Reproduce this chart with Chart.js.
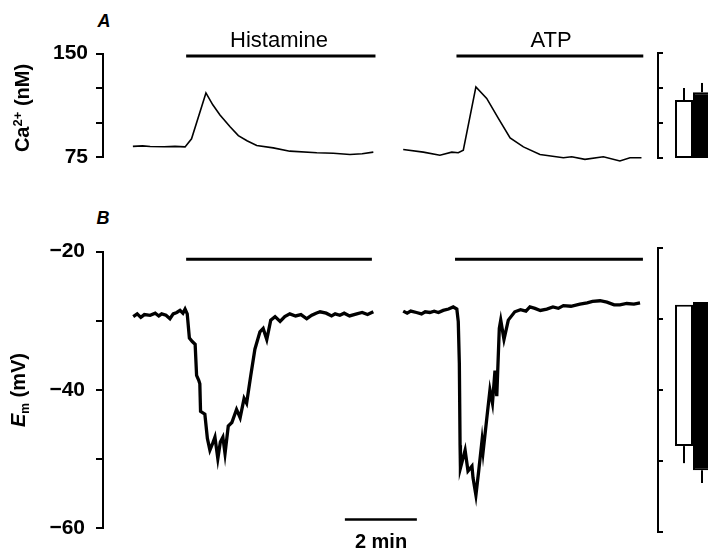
<!DOCTYPE html>
<html>
<head>
<meta charset="utf-8">
<script src="https://cdn.jsdelivr.net/npm/chart.js@4/dist/chart.umd.min.js"></script>
<style>
  html, body { margin:0; padding:0; background:#fff; overflow:hidden; width:708px; height:550px; }
  canvas { position:absolute; }
  .lbl { position:absolute; font-family:'Liberation Sans', Arial, sans-serif; color:#000; white-space:nowrap; transform:translate(-50%,-50%); line-height:1; }
  .rot { transform:translate(-50%,-50%) rotate(-90deg); }
</style>
</head>
<body>
<canvas id="cA" width="653" height="145" style="left:0;top:33px"></canvas>
<canvas id="cB" width="653" height="324" style="left:0;top:228px"></canvas>
<canvas id="bA" width="80" height="145" style="left:648px;top:33px"></canvas>
<canvas id="bB" width="80" height="324" style="left:648px;top:228px"></canvas>

<div class="lbl" style="left:104px;top:21px;font-size:18px;font-weight:bold;font-style:italic">A</div>
<div class="lbl" style="left:103px;top:218px;font-size:18px;font-weight:bold;font-style:italic">B</div>
<div class="lbl" style="left:279px;top:40px;font-size:22px;">Histamine</div>
<div class="lbl" style="left:551px;top:40px;font-size:22px;">ATP</div>
<div class="lbl" style="left:381px;top:541px;font-size:20px;font-weight:bold">2 min</div>
<div class="lbl rot" style="left:21px;top:108px;font-size:20px;font-weight:bold">Ca<sup style="font-size:13px;vertical-align:7px">2+</sup> (nM)</div>
<div class="lbl rot" style="left:19px;top:390px;font-size:20px;font-weight:bold"><i>E</i><sub style="font-size:12px;vertical-align:-4px">m</sub> (mV)</div>

<script>
// ---------- time axis (minutes) ----------
const timeRange = [0, 15.28];

// ---------- Panel A : [Ca2+]i (nM) ----------
const caTicks = [75, 100, 125, 150];
const caTickLabels = ['75', '', '', '150'];
const caHistamine = [[0.83,83.0],[1.1,83.3],[1.31,82.9],[1.7,82.7],[2.0,83.0],[2.28,82.6],[2.46,88.4],[2.86,121.6],[3.05,113.0],[3.25,105.7],[3.53,97.1],[3.76,90.7],[4.0,87.0],[4.27,83.6],[4.73,81.9],[5.19,79.5],[5.94,78.4],[6.4,78.0],[6.86,77.1],[7.2,77.6],[7.51,78.8]];
const caATP = [[8.34,80.7],[8.9,78.8],[9.36,76.6],[9.69,78.8],[9.87,78.4],[10.01,80.2],[10.36,125.9],[10.66,117.6],[10.98,103.4],[11.31,89.1],[11.68,82.6],[12.14,77.1],[12.79,74.8],[13.02,75.5],[13.39,73.6],[13.9,75.5],[14.36,72.4],[14.64,74.8],[14.96,74.8]];
const caHistaminePeriod = [2.31, 7.57];
const caATPPeriod = [9.82, 15.01];
const caPeriodLevel = 148.2;

// ---------- Panel B : Em (mV) ----------
const emTicks = [-60, -50, -40, -30, -20];
const emTickLabels = ['\u221260', '', '\u221240', '', '\u221220'];
const emHistamine = [[0.84,-29.4],[0.95,-29.0],[1.05,-29.5],[1.15,-29.1],[1.31,-29.2],[1.45,-28.9],[1.55,-29.3],[1.63,-29.0],[1.75,-29.2],[1.86,-29.7],[1.95,-29.0],[2.05,-28.8],[2.14,-28.5],[2.22,-28.9],[2.28,-28.3],[2.34,-29.0],[2.40,-32.5],[2.48,-33.0],[2.56,-33.4],[2.60,-37.9],[2.66,-38.6],[2.69,-39.1],[2.71,-43.1],[2.83,-43.5],[2.90,-47.0],[2.97,-48.7],[3.04,-47.8],[3.11,-46.8],[3.19,-49.9],[3.26,-47.5],[3.33,-46.8],[3.39,-49.2],[3.48,-45.2],[3.58,-44.7],[3.71,-42.8],[3.81,-44.0],[3.92,-41.2],[3.99,-41.9],[4.10,-38.1],[4.22,-34.1],[4.36,-31.6],[4.45,-31.1],[4.55,-32.7],[4.66,-29.9],[4.78,-29.4],[4.92,-30.1],[5.05,-29.4],[5.19,-29.0],[5.35,-29.3],[5.5,-29.1],[5.66,-29.7],[5.8,-29.2],[5.92,-28.9],[6.03,-28.7],[6.2,-28.9],[6.35,-29.3],[6.45,-29.0],[6.58,-29.2],[6.7,-28.9],[6.85,-29.3],[7.05,-29.0],[7.2,-28.8],[7.35,-29.1],[7.51,-28.7]];
const emATP = [[8.34,-28.6],[8.45,-28.9],[8.55,-28.6],[8.71,-28.8],[8.85,-29.0],[8.95,-28.7],[9.08,-28.8],[9.2,-28.6],[9.32,-28.8],[9.45,-28.5],[9.6,-28.3],[9.73,-28.0],[9.83,-28.3],[9.87,-30.1],[9.90,-36.2],[9.92,-48.0],[9.93,-51.3],[10.06,-48.7],[10.14,-51.7],[10.25,-51.0],[10.28,-52.7],[10.36,-55.2],[10.44,-51.6],[10.53,-47.3],[10.56,-48.9],[10.66,-44.2],[10.75,-40.0],[10.82,-41.9],[10.89,-37.2],[10.94,-40.9],[11.01,-31.1],[11.05,-29.9],[11.14,-32.7],[11.26,-29.9],[11.44,-28.7],[11.6,-28.4],[11.75,-28.6],[11.86,-28.0],[12.0,-28.2],[12.15,-28.5],[12.33,-28.3],[12.5,-28.0],[12.65,-28.2],[12.79,-27.8],[13.0,-27.9],[13.25,-27.6],[13.45,-27.4],[13.6,-27.2],[13.81,-27.1],[14.0,-27.3],[14.2,-27.7],[14.36,-27.7],[14.55,-27.5],[14.75,-27.6],[14.92,-27.4]];
const emHistaminePeriod = [2.31, 7.47];
const emATPPeriod = [9.78, 15.0];
const emPeriodLevel = -21.1;
const scaleBarTime = [6.72, 8.72];
const scaleBarLevel = -58.7;

// ---------- Summary bars (Histamine = open, ATP = filled) ----------
const barAgents = ['Histamine', 'ATP'];
const caBarBase = [75, 75];
const caBarPeak = [116.4, 122.0];
const caBarErr = [125.0, 128.6];
const emBarRest = [-28.0, -27.6];
const emBarPeak = [-47.9, -51.3];
const emBarErr = [-50.3, -53.1];

// ---------- helpers ----------
const FONT = "'Liberation Sans', Arial, sans-serif";
const toXY = arr => arr.map(p => ({x: p[0], y: p[1]}));
const period = (p, lvl) => [{x: p[0], y: lvl}, {x: p[1], y: lvl}];

function lineDs(data, w) {
  return { data, borderColor: '#000', borderWidth: w, pointRadius: 0, tension: 0, clip: false, fill: false };
}

function traceChart(id, yMin, yMax, step, ticks, labels, pad, datasets) {
  return new Chart(document.getElementById(id), {
    type: 'line',
    data: { datasets },
    options: {
      responsive: false, animation: false, devicePixelRatio: 1,
      layout: { padding: { top: 20, bottom: 20, left: 0, right: 0 } },
      plugins: { legend: { display: false }, tooltip: { enabled: false } },
      scales: {
        x: { type: 'linear', min: timeRange[0], max: timeRange[1], display: false },
        y: {
          min: yMin, max: yMax,
          afterFit: s => { s.width = 103; },
          afterBuildTicks: s => { s.ticks = ticks.map(v => ({ value: v })); },
          ticks: { color: '#000', padding: pad, font: { family: FONT, size: 21, weight: 'bold' },
                   callback: v => { const i = ticks.indexOf(v); return i >= 0 ? labels[i] : ''; } },
          grid: { drawOnChartArea: false, drawTicks: true, tickLength: 7, color: '#000', lineWidth: 2 },
          border: { display: true, color: '#000', width: 2 }
        }
      }
    }
  });
}

traceChart('cA', 75, 150, 25, caTicks, caTickLabels, 8, [
  lineDs(toXY(caHistamine), 1.6),
  lineDs(toXY(caATP), 1.6),
  lineDs(period(caHistaminePeriod, caPeriodLevel), 3),
  lineDs(period(caATPPeriod, caPeriodLevel), 3)
]);

traceChart('cB', -60, -20, 10, emTicks, emTickLabels, 11, [
  lineDs(toXY(emHistamine), 3.3),
  lineDs(toXY(emATP), 3.3),
  lineDs(period(emHistaminePeriod, emPeriodLevel), 3),
  lineDs(period(emATPPeriod, emPeriodLevel), 3),
  lineDs(period(scaleBarTime, scaleBarLevel), 2.5)
]);

const errorBars = {
  id: 'errorBars',
  afterDatasetsDraw(chart) {
    const ctx = chart.ctx, y = chart.scales.y;
    chart.data.datasets.forEach((ds, di) => {
      chart.getDatasetMeta(di).data.forEach((bar, i) => {
        ctx.save();
        ctx.strokeStyle = '#000'; ctx.lineWidth = 2;
        ctx.beginPath();
        ctx.moveTo(bar.x, y.getPixelForValue(ds.errFrom[i]));
        ctx.lineTo(bar.x, y.getPixelForValue(ds.errTo[i]));
        ctx.stroke();
        ctx.restore();
      });
    });
  }
};

function barChart(id, yMin, yMax, ticks, low, high, errFrom, errTo) {
  const mk = (i, fill) => ({
    label: barAgents[i],
    data: [[low[i], high[i]]],
    backgroundColor: fill, borderColor: '#000', borderWidth: 2, borderSkipped: false,
    barPercentage: 1, categoryPercentage: 0.514,
    errFrom: [errFrom[i]], errTo: [errTo[i]]
  });
  return new Chart(document.getElementById(id), {
    type: 'bar',
    data: { labels: [''], datasets: [mk(0, '#fff'), mk(1, '#000')] },
    options: {
      responsive: false, animation: false, devicePixelRatio: 1,
      layout: { padding: { top: 20, bottom: 20, left: 0, right: 0 } },
      plugins: { legend: { display: false }, tooltip: { enabled: false } },
      scales: {
        x: { display: false },
        y: {
          min: yMin, max: yMax,
          afterFit: s => { s.width = 10; },
          afterBuildTicks: s => { s.ticks = ticks.map(v => ({ value: v })); },
          ticks: { display: false },
          grid: { drawOnChartArea: false, drawTicks: true, tickLength: -5, color: '#000', lineWidth: 2 },
          border: { display: true, color: '#000', width: 2 }
        }
      }
    },
    plugins: [errorBars]
  });
}

barChart('bA', 75, 150, caTicks, caBarBase, caBarPeak, caBarPeak, caBarErr);
barChart('bB', -60, -20, emTicks, emBarPeak, emBarRest, emBarPeak, emBarErr);
</script>
</body>
</html>
